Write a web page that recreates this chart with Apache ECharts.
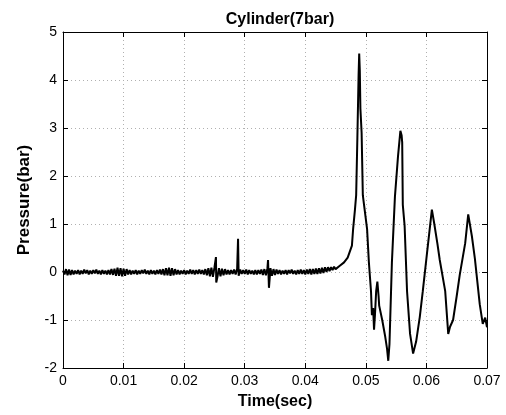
<!DOCTYPE html>
<html>
<head>
<meta charset="utf-8">
<script src="https://cdn.jsdelivr.net/npm/echarts@6/dist/echarts.min.js"></script>
<style>
html,body{margin:0;padding:0;background:#fff;}
#chart{width:506px;height:415px;}
</style>
</head>
<body>
<div id="chart"></div>
<script>
// Time samples (sec)
var timeSec = [
0,0.00025,0.0005,0.00075,0.001,0.00125,0.0015,0.00175,0.002,0.00225,
0.0025,0.00275,0.003,0.00325,0.0035,0.00375,0.004,0.00425,0.0045,0.00475,
0.005,0.00525,0.0055,0.00575,0.006,0.00625,0.0065,0.00675,0.007,0.00725,
0.0075,0.00775,0.008,0.00825,0.0085,0.00875,0.009,0.00925,0.0095,0.00975,
0.010,0.01025,0.0105,0.01075,0.011,0.01125,0.0115,0.01175,0.012,0.01225,
0.0125,0.01275,0.013,0.01325,0.0135,0.01375,0.014,0.01425,0.0145,0.01475,
0.015,0.01525,0.0155,0.01575,0.016,0.01625,0.0165,0.01675,0.017,0.01725,
0.0175,0.01775,0.018,0.01825,0.0185,0.01875,0.019,0.01925,0.0195,0.01975,
0.020,0.02025,0.0205,0.02075,0.021,0.02125,0.0215,0.02175,0.022,0.02225,
0.0225,0.02275,0.023,0.02325,0.0235,0.02375,0.024,0.02425,0.0245,0.02475,
0.0250,0.02525,0.0253,0.0255,0.02575,0.0260,0.02625,0.0265,0.02675,0.0270,
0.02725,0.0275,0.02775,0.0280,0.02825,0.0285,0.02875,0.0289,0.0290,0.02925,0.0295,
0.02975,0.0300,0.03025,0.0305,0.03075,0.0310,0.03125,0.0315,0.03175,0.0320,
0.03225,0.0325,0.03275,0.0330,0.03325,0.0335,0.03375,0.03385,0.0340,0.03425,0.0345,
0.03475,0.0350,0.03525,0.0355,0.03575,0.0360,0.03625,0.0365,0.03675,0.0370,
0.03725,0.0375,0.03775,0.0380,0.03825,0.0385,0.03875,0.0390,0.03925,0.0395,
0.03975,0.0400,0.04025,0.0405,0.04075,0.0410,0.04125,0.0415,0.04175,0.0420,
0.04225,0.0425,0.04275,0.0430,0.04325,0.0435,0.04375,0.0440,0.04425,0.0445,0.04475,0.0450,
0.0457,0.0464,0.0470,0.0477,0.0479,
0.0482,0.0484,0.0486,0.0488,0.0489,0.0490,0.0491,0.0493,0.0495,0.0497,
0.0502,0.0505,0.05085,0.0510,0.0512,0.05135,0.0515,0.0517,0.0519,0.0521,
0.0522,0.0527,0.0532,0.0535,0.0537,0.0539,0.0543,0.0548,0.0553,0.0557,
0.0559,0.0560,0.0561,0.0564,0.0568,0.0573,0.0578,0.0583,0.0589,0.0594,
0.0601,0.0606,0.0609,0.0613,0.0618,0.0622,0.0631,0.0636,0.0639,0.0644,
0.0650,0.0655,0.0664,0.0669,0.0675,0.0680,0.0688,0.0693,0.0697,0.0700
];
// Pressure (bar) at each time sample
var pressureBar = [
0.03,-0.05,0.06,-0.07,0.05,-0.06,0.04,-0.05,0.03,-0.04,
0.04,-0.05,0.03,-0.04,0.05,-0.03,0.04,-0.05,0.03,-0.04,
0.04,-0.03,0.05,-0.04,0.03,-0.05,0.04,-0.04,0.03,-0.05,
0.04,-0.05,0.06,-0.06,0.07,-0.08,0.09,-0.08,0.08,-0.09,
0.07,-0.08,0.06,-0.05,0.04,-0.05,0.03,-0.04,0.04,-0.05,
0.03,-0.04,0.04,-0.03,0.05,-0.04,0.03,-0.05,0.04,-0.04,
0.03,-0.05,0.04,-0.04,0.05,-0.05,0.06,-0.07,0.08,-0.07,
0.09,-0.08,0.08,-0.07,0.06,-0.05,0.04,-0.05,0.03,-0.04,
0.04,-0.05,0.03,-0.04,0.05,-0.04,0.04,-0.05,0.04,-0.04,
0.05,-0.04,0.04,-0.05,0.06,-0.07,0.08,-0.09,0.09,-0.10,
0.09,0.31,-0.22,-0.10,0.08,-0.09,0.07,-0.07,0.06,-0.05,
0.04,-0.05,0.04,-0.04,0.05,-0.05,0.06,0.69,-0.08,0.05,-0.04,
0.04,-0.04,0.05,-0.05,0.04,-0.04,0.03,-0.05,0.04,-0.05,
0.04,-0.04,0.05,-0.06,0.06,-0.07,0.08,0.25,-0.33,0.08,-0.08,
0.06,-0.06,0.05,-0.04,0.04,-0.05,0.03,-0.04,0.04,-0.05,
0.04,-0.03,0.05,-0.04,0.03,-0.05,0.04,-0.04,0.05,-0.04,
0.04,-0.05,0.05,-0.04,0.06,-0.05,0.06,-0.04,0.07,-0.04,
0.08,-0.03,0.09,-0.02,0.10,0.00,0.10,0.02,0.10,0.04,0.11,0.06,
0.13,0.20,0.30,0.55,0.90,
1.30,1.60,2.80,4.10,4.55,4.20,3.40,2.90,1.60,1.40,
0.90,0.20,-0.40,-0.90,-0.75,-1.20,-0.90,-0.40,-0.20,-0.50,
-0.70,-1.00,-1.35,-1.60,-1.85,-1.50,0.20,1.57,2.40,2.94,
2.85,2.70,1.40,0.96,-0.40,-1.29,-1.70,-1.45,-0.94,-0.40,
0.40,0.96,1.30,1.00,0.60,0.25,-0.40,-1.29,-1.14,-1.00,
-0.50,-0.06,0.60,1.20,0.75,0.28,-0.67,-1.08,-0.95,-1.15
];
var xTicks = { min: 0, max: 0.07, step: 0.01 };
var yTicks = { min: -2, max: 5, step: 1 };
var chartTitle = 'Cylinder(7bar)';
var xName = 'Time(sec)';
var yName = 'Pressure(bar)';

var seriesData = timeSec.map(function (t, i) { return [t, pressureBar[i]]; });
var font = '"Liberation Sans", Arial, sans-serif';
var chart = echarts.init(document.getElementById('chart'), null, { renderer: 'canvas' });

function baseAxis(extra) {
  var a = {
    type: 'value',
    axisLine: { show: true, onZero: false, lineStyle: { color: '#000', width: 1 } },
    axisTick: { show: true, inside: true, length: 5, lineStyle: { color: '#000' } },
    splitLine: { show: false },
    axisLabel: { show: false }
  };
  for (var k in extra) a[k] = extra[k];
  return a;
}

chart.setOption({
  animation: false,
  backgroundColor: '#fff',
  title: {
    text: chartTitle,
    left: 275, top: 7, textAlign: 'center',
    textStyle: { fontFamily: font, fontSize: 16, fontWeight: 'bold', color: '#000' }
  },
  grid: { left: 63, right: 19, top: 32, bottom: 40, containLabel: false },
  xAxis: [
    baseAxis({
      position: 'bottom', min: xTicks.min, max: xTicks.max, interval: xTicks.step,
      name: xName, nameLocation: 'middle', nameGap: 26,
      nameTextStyle: { fontFamily: font, fontSize: 16, fontWeight: 'bold', color: '#000' },
      axisLabel: { show: true, margin: 6, fontFamily: font, fontSize: 14, color: '#000',
        formatter: function (v) { return String(Math.round(v * 100) / 100); } },
      splitLine: { show: true, lineStyle: { color: '#b0b0b0', type: [1, 3], width: 1 } }
    }),
    baseAxis({ position: 'top', min: xTicks.min, max: xTicks.max, interval: xTicks.step })
  ],
  yAxis: [
    baseAxis({
      position: 'left', min: yTicks.min, max: yTicks.max, interval: yTicks.step,
      name: yName, nameLocation: 'middle', nameGap: 30,
      nameTextStyle: { fontFamily: font, fontSize: 17, fontWeight: 'bold', color: '#000' },
      axisLabel: { show: true, margin: 6, fontFamily: font, fontSize: 14, color: '#000' },
      splitLine: { show: true, lineStyle: { color: '#b0b0b0', type: [1, 3], width: 1 } }
    }),
    baseAxis({ position: 'right', min: yTicks.min, max: yTicks.max, interval: yTicks.step })
  ],
  series: [{
    type: 'line',
    data: seriesData,
    showSymbol: false,
    symbol: 'none',
    lineStyle: { color: '#000', width: 2 },
    xAxisIndex: 0, yAxisIndex: 0
  }]
});
</script>
</body>
</html>
